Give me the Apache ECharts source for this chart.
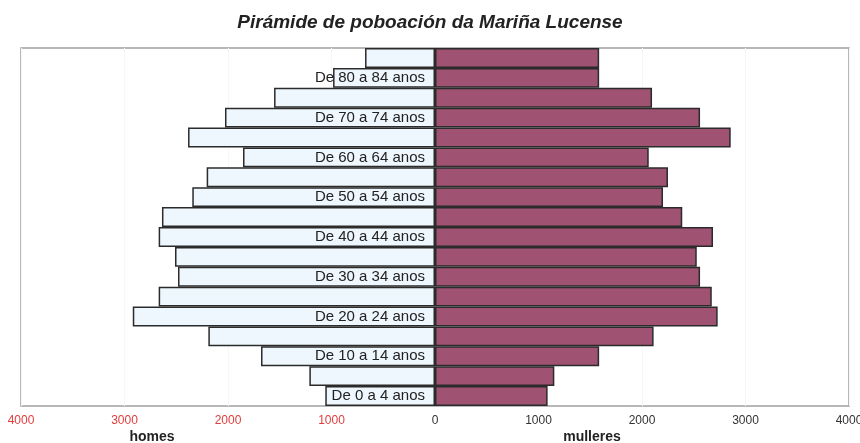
<!DOCTYPE html>
<html>
<head>
<meta charset="utf-8">
<script src="https://cdn.jsdelivr.net/npm/echarts@6/dist/echarts.min.js"></script>
<style>html,body{margin:0;padding:0;background:#fff}#c{width:860px;height:443px}</style>
</head>
<body>
<div id="c"></div>
<script>
var categories = ["De 0 a 4 anos","De 5 a 9 anos","De 10 a 14 anos","De 15 a 19 anos","De 20 a 24 anos","De 25 a 29 anos","De 30 a 34 anos","De 35 a 39 anos","De 40 a 44 anos","De 45 a 49 anos","De 50 a 54 anos","De 55 a 59 anos","De 60 a 64 anos","De 65 a 69 anos","De 70 a 74 anos","De 75 a 79 anos","De 80 a 84 anos","De 85 e máis anos"];
var homes = [1060,1214,1681,2190,2920,2670,2483,2512,2670,2638,2345,2206,1855,2386,2029,1555,985,676];
var mulleres = [1088,1153,1586,2112,2731,2674,2561,2529,2686,2389,2203,2251,2065,2857,2561,2097,1586,1586];
var tickValues = [-4000,-3000,-2000,-1000,0,1000,2000,3000,4000];

var chart = echarts.init(document.getElementById('c'));
var font = 'Liberation Sans, Arial, sans-serif';
chart.setOption({
  animation: false,
  title: {
    text: 'Pirámide de poboación da Mariña Lucense',
    left: 'center', top: 8,
    textStyle: {fontFamily: font, fontSize: 19, fontWeight: 'bold', fontStyle: 'italic', color: '#222'}
  },
  grid: {left: 21, right: 11, top: 48, bottom: 37, show: true, borderColor: '#a0a0a0', borderWidth: 1.5, outerBoundsMode: 'none', containLabel: false},
  xAxis: {
    type: 'value', min: -4000, max: 4000, interval: 1000,
    axisLine: {show: false}, axisTick: {show: false},
    splitLine: {show: true, lineStyle: {color: '#f7f7f7'}},
    axisLabel: {
      margin: 9, fontFamily: font, fontSize: 12,
      formatter: function(v){ return String(Math.abs(v)); },
      color: function(v){ return Number(v) < 0 ? '#e03c3c' : '#333'; }
    }
  },
  yAxis: {
    type: 'category', data: categories,
    axisLine: {show: false}, axisTick: {show: false}, axisLabel: {show: false}, splitLine: {show: false}
  },
  series: [
    {
      name: 'homes', type: 'bar', stack: 'p', barCategoryGap: 0,
      data: homes.map(function(v){ return -v; }),
      itemStyle: {color: '#eef7fd', borderColor: '#2b2b2b', borderWidth: 1.5},
      label: {
        show: true, position: 'insideRight', distance: 10,
        fontFamily: font, fontSize: 15, color: '#222',
        formatter: function(p){ return p.dataIndex % 2 === 0 ? p.name : ''; }
      }
    },
    {
      name: 'mulleres', type: 'bar', stack: 'p', barCategoryGap: 0,
      data: mulleres,
      itemStyle: {color: '#9f5272', borderColor: '#2b2b2b', borderWidth: 1.5}
    }
  ],
  graphic: [
    {type: 'text', x: 152, y: 437, style: {text: 'homes', textAlign: 'center', textVerticalAlign: 'middle', font: 'bold 14px ' + font, fill: '#222'}},
    {type: 'text', x: 592, y: 437, style: {text: 'mulleres', textAlign: 'center', textVerticalAlign: 'middle', font: 'bold 14px ' + font, fill: '#222'}}
  ]
});
</script>
</body>
</html>
